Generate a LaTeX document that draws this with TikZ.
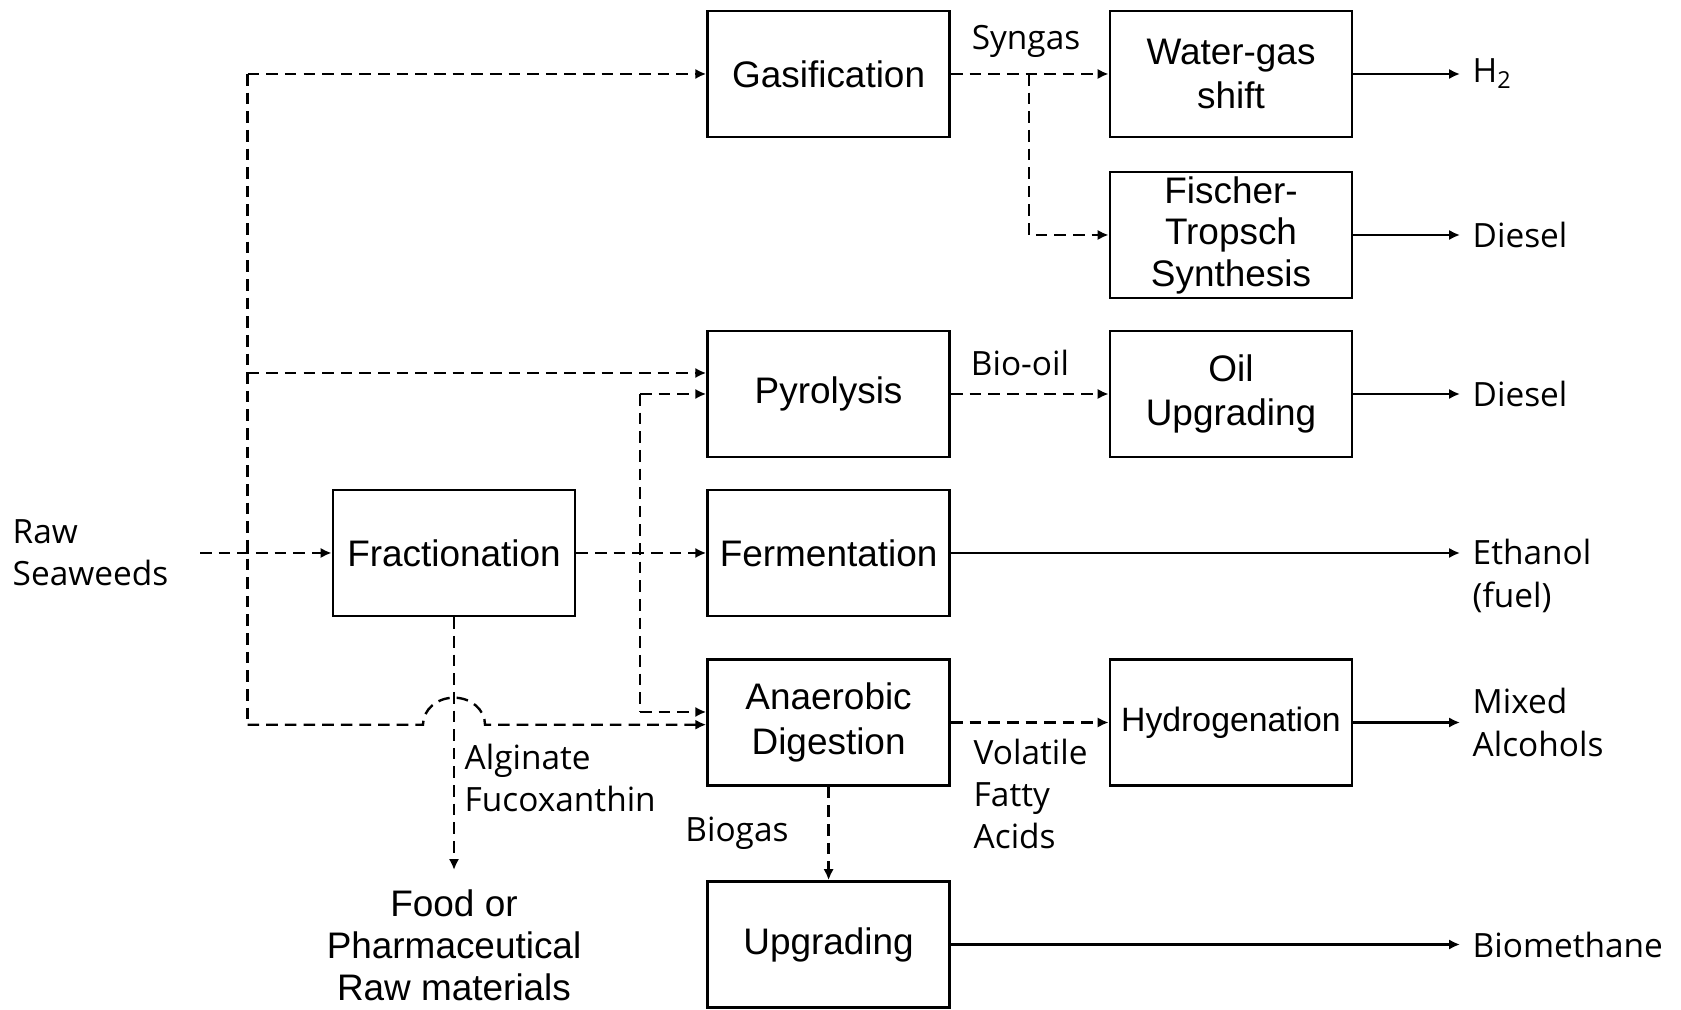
\documentclass[tikz,border=0pt]{standalone}
\usepackage{fontspec}
\setmainfont{Liberation Sans}
\newfontfamily\swlabelfont{Open Sans}
\usepackage{tikz}
\usetikzlibrary{arrows.meta,positioning}
\tikzset{
  sw diagram/.style={font=\fontsize{10.5}{12.6}\selectfont,
    x=0.01cm, y=-0.01cm},
  sw box/.style={draw, line width=0.75pt, minimum width=2.42cm,
    minimum height=1.26cm, align=center, inner sep=2pt},
  sw dash/.style={line width=0.68pt, dash pattern=on 3.3pt off 2pt},
  sw flow/.style={sw dash, -{Latex[length=3.1pt,width=2.9pt]}},
  sw out/.style={line width=0.68pt, -{Latex[length=3.1pt,width=2.9pt]}},
  sw label/.style={font=\swlabelfont\fontsize{9.5}{12}\selectfont,
    align=left, inner sep=0pt},
  sw product/.style={sw label, anchor=west, inner xsep=0.12cm}
}
\begin{document}
\begin{tikzpicture}[sw diagram]
\useasboundingbox (0,0) rectangle (1681,1010);
% process boxes
\node[sw box] (gas) at (828.6,74) {Gasification};
\node[sw box] (wgs) at (1231,74) {Water-gas\\shift};
\node[sw box, inner ysep=0pt, font=\fontsize{10.5}{11.8}\selectfont]
  (ft) at (1231,235) {Fischer-\\Tropsch\\Synthesis};
\node[sw box] (pyr) at (828.6,394) {Pyrolysis};
\node[sw box] (oil) at (1231,394) {Oil\\Upgrading};
\node[sw box] (frac) at (454,553) {Fractionation};
\node[sw box] (ferm) at (828.6,553) {Fermentation};
\node[sw box] (ad) at (828.6,722.5) {Anaerobic\\Digestion};
\node[sw box] (hyd) at (1231,722.5) {\fontsize{9.6}{12}\selectfont Hydrogenation};
\node[sw box] (upg) at (828.6,944.5) {Upgrading};
% feed, products and stream labels
\node[sw label, anchor=west] (raw) at (12,553) {Raw\\Seaweeds};
\node[sw label, font=\fontsize{10.5}{12}\selectfont, align=center,
  anchor=north] (food) at (454,889) {Food or\\Pharmaceutical\\Raw materials};
\node[sw product] (h2) at (1460,74) {H\textsubscript{2}};
\node[sw product] (dsl1) at (1460,235) {Diesel};
\node[sw product] (dsl2) at (1460,394) {Diesel};
\node[sw product] (eth) at (1460,576) {Ethanol\\(fuel)};
\node[sw product] (mix) at (1460,722.5) {Mixed\\Alcohols};
\node[sw product] (bmeth) at (1460,944.5) {Biomethane};
\node[sw label] (syngas) at (1026,41) {Syngas};
\node[sw label] (biooil) at (1020,363) {Bio-oil};
\node[sw label] (biogas) at (737,833) {Biogas};
\node[sw label, anchor=north west] (vfa) at (973,738) {Volatile\\Fatty\\Acids};
\node[sw label, anchor=north west] (alg) at (464,743) {Alginate\\Fucoxanthin};
% branch points
\coordinate (feed) at (200,553);
\coordinate (bustop) at (247.6,74);
\coordinate (buspyr) at (247.6,373);
\coordinate (busbot) at (247.6,724.7);
\coordinate (hop) at (frac.south |- busbot);
\coordinate (midtop) at (640,394);
\coordinate (midbot) at (640,712);
\coordinate (synsplit) at (1029,74);
% dashed streams
\draw[sw flow] (feed) -- (frac);
\draw[sw dash] (bustop) -- (busbot);
\draw[sw flow] (bustop) -- (gas);
\draw[sw flow] (buspyr) -- (buspyr -| pyr.west);
\draw[sw flow] (busbot) -- ([xshift=-0.31cm]hop)
  arc[start angle=180, end angle=0, x radius=0.31cm, y radius=0.27cm]
  -- (busbot -| ad.west);
\draw[sw dash] (midtop) -- (midbot);
\draw[sw flow] (midtop) -- (pyr);
\draw[sw flow] (midbot) -- (midbot -| ad.west);
\draw[sw flow] (frac) -- (ferm);
\draw[sw flow] (frac) -- ([yshift=0.19cm]food.north);
\draw[sw flow] (gas) -- (wgs);
\draw[sw flow] (synsplit) |- (ft);
\draw[sw flow] (pyr) -- (oil);
\draw[sw flow] (ad) -- (hyd);
\draw[sw flow] (ad) -- (upg);
% products
\draw[sw out] (wgs) -- (wgs -| h2.west);
\draw[sw out] (ft) -- (ft -| dsl1.west);
\draw[sw out] (oil) -- (oil -| dsl2.west);
\draw[sw out] (ferm) -- (ferm -| eth.west);
\draw[sw out] (hyd) -- (hyd -| mix.west);
\draw[sw out] (upg) -- (upg -| bmeth.west);
\end{tikzpicture}
\end{document}
